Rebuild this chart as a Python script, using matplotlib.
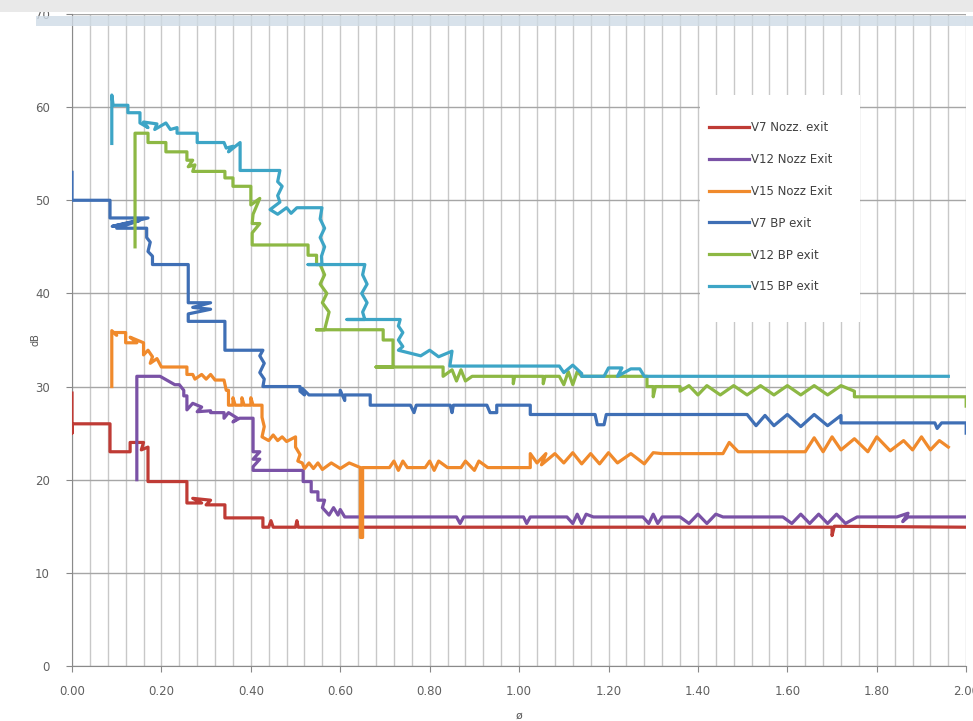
import matplotlib.pyplot as plt
from matplotlib.patches import Rectangle
from matplotlib.ticker import MultipleLocator

v7_nozz_x = [0, 0, 0, 0.085, 0.085, 0.13, 0.13, 0.16, 0.155, 0.17, 0.17, 0.257, 0.257, 0.29, 0.27, 0.31,
             0.30, 0.342, 0.342, 0.427, 0.427, 0.44, 0.445, 0.45, 0.50, 0.503, 0.506, 1.70, 1.70, 1.705, 2.0]
v7_nozz_y = [29.3, 25, 26, 26, 23, 23, 24, 24, 23.2, 23.5, 19.8, 19.8, 17.5, 17.5, 18, 17.8,
             17.3, 17.3, 15.9, 15.9, 14.9, 14.9, 15.6, 14.9, 14.9, 15.6, 14.9, 14.9, 14.0, 15.0, 14.9]

v12_nozz_x = [0.145, 0.145, 0.197, 0.23, 0.24, 0.25, 0.25, 0.257, 0.257, 0.27, 0.29, 0.28, 0.31, 0.31,
              0.34, 0.34, 0.35, 0.37, 0.36, 0.375, 0.405, 0.405, 0.42, 0.405, 0.42, 0.405, 0.405, 0.517,
              0.517, 0.535, 0.535, 0.55, 0.55, 0.565, 0.56, 0.575, 0.585, 0.595, 0.60, 0.61, 0.86, 0.868,
              0.876, 1.01, 1.017, 1.025, 1.107, 1.12, 1.13, 1.14, 1.15, 1.166, 1.277, 1.29, 1.30, 1.31,
              1.32, 1.36, 1.38, 1.40, 1.42, 1.44, 1.456, 1.59, 1.61, 1.63, 1.65, 1.67, 1.69, 1.71, 1.73,
              1.756, 1.845, 1.87, 1.858, 1.87, 2.0]
v12_nozz_y = [20, 31.1, 31.1, 30.2, 30.2, 29.6, 29, 29, 27.5, 28.2, 27.8, 27.3, 27.4, 27.2,
              27.2, 26.6, 27.2, 26.6, 26.2, 26.6, 26.6, 23, 23, 22.2, 22.2, 21.4, 21, 21,
              19.8, 19.8, 18.7, 18.7, 17.8, 17.8, 17, 16.2, 17, 16.2, 16.8, 16, 16, 15.3,
              16, 16, 15.3, 16, 16, 15.3, 16.3, 15.3, 16.3, 16, 16, 15.3, 16.3, 15.3,
              16, 16, 15.3, 16.3, 15.3, 16.3, 16, 16, 15.3, 16.3, 15.3, 16.3, 15.3, 16.3, 15.3,
              16, 16, 16.4, 15.5, 16, 16]

v15_nozz_x = [0.089, 0.089, 0.10, 0.095, 0.12, 0.12, 0.145, 0.13, 0.16, 0.16, 0.17, 0.18, 0.175, 0.19,
              0.20, 0.257, 0.257, 0.27, 0.275, 0.29, 0.30, 0.31, 0.32, 0.34, 0.345, 0.35, 0.35, 0.36,
              0.36, 0.365, 0.38, 0.38, 0.385, 0.40, 0.40, 0.405, 0.425, 0.425, 0.43, 0.425, 0.44, 0.45,
              0.46, 0.47, 0.48, 0.50, 0.50, 0.51, 0.505, 0.515, 0.52, 0.53, 0.54, 0.55, 0.56, 0.58,
              0.60, 0.62, 0.645, 0.645, 0.65, 0.65, 0.71, 0.72, 0.73, 0.74, 0.75, 0.79, 0.80, 0.81,
              0.82, 0.84, 0.87, 0.88, 0.90, 0.91, 0.93, 1.025, 1.025, 1.04, 1.06, 1.05, 1.08, 1.10,
              1.12, 1.14, 1.16, 1.18, 1.20, 1.22, 1.25, 1.28, 1.30, 1.32, 1.456, 1.47, 1.49, 1.50,
              1.64, 1.66, 1.68, 1.70, 1.72, 1.75, 1.78, 1.80, 1.83, 1.86, 1.88, 1.90, 1.92, 1.94,
              1.96]
v15_nozz_y = [30, 36, 35.5, 35.8, 35.8, 34.7, 34.7, 35.3, 34.7, 33.4, 33.9, 33.2, 32.5, 33,
              32.1, 32.1, 31.3, 31.3, 30.8, 31.3, 30.8, 31.3, 30.7, 30.7, 29.6, 29.6, 28, 28,
              28.8, 28, 28, 28.8, 28, 28, 28.8, 28, 28, 26.7, 25.7, 24.6, 24.2, 24.8,
              24.2, 24.6, 24.1, 24.6, 23.5, 22.7, 22, 21.8, 21.2, 21.8, 21.2, 21.8, 21.1, 21.8,
              21.2, 21.8, 21.3, 13.8, 13.8, 21.3, 21.3, 22, 21, 22, 21.3, 21.3, 22, 21,
              22, 21.3, 21.3, 22, 21, 22, 21.3, 21.3, 22.8, 21.8, 22.8, 21.6, 22.8, 21.8,
              22.9, 21.7, 22.8, 21.7, 22.9, 21.8, 22.8, 21.7, 22.9, 22.8, 22.8, 24, 23, 23,
              23, 24.5, 23, 24.6, 23.2, 24.4, 23, 24.6, 23.1, 24.2, 23.2, 24.6, 23.2, 24.2,
              23.5]

v7_bp_x = [0, 0, 0.085, 0.085, 0.17, 0.09, 0.15, 0.10, 0.167, 0.167, 0.175, 0.17, 0.18, 0.18, 0.26,
           0.26, 0.31, 0.27, 0.31, 0.26, 0.26, 0.342, 0.342, 0.427, 0.42, 0.43, 0.42, 0.43, 0.427,
           0.51, 0.51, 0.52, 0.515, 0.53, 0.60, 0.60, 0.61, 0.61, 0.667, 0.667, 0.757, 0.765, 0.77,
           0.846, 0.85, 0.853, 0.928, 0.935, 0.95, 0.95, 1.025, 1.025, 1.17, 1.175, 1.19, 1.195,
           1.51, 1.53, 1.55, 1.57, 1.60, 1.63, 1.66, 1.69, 1.72, 1.72, 1.93, 1.935, 1.945, 2.0, 2.0]
v7_bp_y = [53, 50, 50, 48.1, 48.1, 47.2, 47.8, 47, 47, 46, 45.5, 44.5, 44, 43.1, 43.1,
           39, 39, 38.5, 38.3, 37.8, 37, 37, 33.9, 33.9, 33.3, 32.5, 31.5, 30.8, 30,
           30, 29.5, 29.1, 29.8, 29.1, 29.1, 29.6, 28.5, 29.1, 29.1, 28, 28, 27.2, 28,
           28, 27.2, 28, 28, 27.2, 27.2, 28, 28, 27, 27, 25.9, 25.9, 27,
           27, 25.8, 26.9, 25.8, 27, 25.7, 27, 25.8, 26.9, 26.1, 26.1, 25.5, 26.1, 26.1, 25]

v12_bp_x = [0.141, 0.141, 0.17, 0.17, 0.21, 0.21, 0.257, 0.257, 0.27, 0.26, 0.275, 0.27, 0.342, 0.342,
            0.36, 0.36, 0.40, 0.40, 0.42, 0.405, 0.403, 0.42, 0.403, 0.403, 0.528, 0.528, 0.547,
            0.547, 0.555, 0.565, 0.555, 0.57, 0.56, 0.575, 0.565, 0.547, 0.696, 0.696, 0.718, 0.718,
            0.68, 0.83, 0.83, 0.85, 0.86, 0.87, 0.88, 0.895, 0.987, 0.987, 0.99, 1.054, 1.054, 1.058,
            1.09, 1.10, 1.11, 1.12, 1.13, 1.14, 1.286, 1.286, 1.30, 1.30, 1.305, 1.36, 1.36, 1.38,
            1.40, 1.42, 1.45, 1.48, 1.51, 1.54, 1.57, 1.60, 1.63, 1.66, 1.69, 1.72, 1.75, 1.75, 2.0,
            2.0]
v12_bp_y = [45, 57.2, 57.2, 56.2, 56.2, 55.2, 55.2, 54.3, 54.3, 53.6, 53.8, 53.1, 53.1, 52.4,
            52.4, 51.5, 51.5, 49.5, 50.2, 48.5, 47.5, 47.5, 46.5, 45.2, 45.2, 44.1, 44.1,
            43.1, 43.1, 42, 41, 40, 39, 38, 36.1, 36.1, 36.1, 35, 35, 32.1,
            32.1, 32.1, 31.1, 31.8, 30.6, 31.8, 30.6, 31.1, 31.1, 30.3, 31.1, 31.1, 30.3, 31.1,
            31.1, 30.2, 31.6, 30.2, 31.6, 31.1, 31.1, 30, 30, 28.9, 30, 30, 29.5, 30.1,
            29.1, 30.1, 29.1, 30.1, 29.1, 30.1, 29.1, 30.1, 29.1, 30.1, 29.1, 30.1, 29.5, 28.9, 28.9,
            27.9]

v15_bp_x = [0.089, 0.089, 0.092, 0.125, 0.125, 0.152, 0.152, 0.17, 0.16, 0.19, 0.185, 0.21, 0.22, 0.235,
            0.235, 0.28, 0.28, 0.34, 0.345, 0.36, 0.35, 0.376, 0.376, 0.465, 0.46, 0.47, 0.46, 0.465,
            0.443, 0.46, 0.48, 0.49, 0.503, 0.559, 0.555, 0.565, 0.555, 0.565, 0.558, 0.559, 0.528,
            0.655, 0.65, 0.66, 0.648, 0.66, 0.65, 0.655, 0.615, 0.734, 0.73, 0.74, 0.73, 0.74, 0.73,
            0.78, 0.80, 0.82, 0.85, 0.845, 1.09, 1.10, 1.12, 1.14, 1.14, 1.19, 1.20, 1.23, 1.22,
            1.25, 1.27, 1.28, 1.96]
v15_bp_y = [56.1, 61.3, 60.2, 60.2, 59.4, 59.4, 58.3, 57.8, 58.4, 58.2, 57.6, 58.3, 57.6, 57.8,
            57.2, 57.2, 56.2, 56.2, 55.6, 55.8, 55.2, 56.2, 53.2, 53.2, 52, 51.5, 50.5, 49.8,
            49, 48.5, 49.2, 48.6, 49.2, 49.2, 48, 47, 46, 45, 44, 43.1, 43.1,
            43.1, 42, 41, 40, 39, 38, 37.2, 37.2, 37.2, 36.5, 35.8, 35, 34.3, 33.9,
            33.3, 33.9, 33.2, 33.8, 32.2, 32.2, 31.5, 32.3, 31.4, 31.1, 31.1, 32, 32, 31.1,
            31.9, 31.9, 31.1, 31.1]

series = [
    ('V7 Nozz. exit', v7_nozz_x, v7_nozz_y, '#BF3B35'),
    ('V12 Nozz Exit', v12_nozz_x, v12_nozz_y, '#7A52A6'),
    ('V15 Nozz Exit', v15_nozz_x, v15_nozz_y, '#F08A2C'),
    ('V7 BP exit', v7_bp_x, v7_bp_y, '#3F6FB5'),
    ('V12 BP exit', v12_bp_x, v12_bp_y, '#8DB844'),
    ('V15 BP exit', v15_bp_x, v15_bp_y, '#3DA5C6'),
]

fig = plt.figure(figsize=(9.73, 7.21), dpi=100)
ax = fig.add_axes([0.074, 0.0763, 0.919, 0.9043])

for label, xs, ys, col in series:
    ax.plot(xs, ys, color=col, lw=2.3, label=label, zorder=3)

ax.set_xlim(0, 2.0)
ax.set_ylim(0, 70)
ax.xaxis.set_minor_locator(MultipleLocator(0.04))
ax.yaxis.set_major_locator(MultipleLocator(10))
xticks = [0, 0.2, 0.4, 0.6, 0.8, 1.0, 1.2, 1.4, 1.6, 1.8, 2.0]
ax.set_xticks(xticks)
ax.set_xticklabels(['%.2f' % v for v in xticks])
ax.grid(which='both', axis='x', color='#c8c8c8', lw=1)
ax.grid(which='major', axis='y', color='#a6a6a6', lw=1)
ax.set_axisbelow(True)
ax.tick_params(which='major', length=4, color='#888888', labelsize=8.5, labelcolor='#606060')
ax.tick_params(axis='x', which='major', pad=10)
ax.tick_params(axis='y', which='major', pad=12)
ax.tick_params(which='minor', length=0)
for s in ['top', 'right']:
    ax.spines[s].set_visible(False)
for s in ['left', 'bottom']:
    ax.spines[s].set_color('#8a8a8a')

ax.set_xlabel('ø', fontsize=8, color='#555555')
ax.xaxis.set_label_coords(0.5, -0.068)
ax.set_ylabel('dB', fontsize=7, color='#555555')
ax.yaxis.set_label_coords(-0.035, 0.5)

# legend box
ax.add_patch(Rectangle((0.7025, 0.5276), 0.1785, 0.3482, transform=ax.transAxes,
                       facecolor='white', edgecolor='none', zorder=4))
leg = ax.legend(loc='upper left', bbox_to_anchor=(0.706, 0.845), frameon=False,
                fontsize=8.5, labelspacing=1.6, handlelength=3.4, handletextpad=0.15,
                borderpad=0, labelcolor='#404040')
leg.set_zorder(5)

# screenshot band at the top
fig.patches.append(Rectangle((0, 1 - 12 / 721), 1, 12 / 721, transform=fig.transFigure,
                             facecolor='#e9e9e9', edgecolor='none'))
fig.patches.append(Rectangle((0.037, 1 - 26 / 721), 0.963, 10 / 721, transform=fig.transFigure,
                             facecolor='#cfdbe6', edgecolor='none', alpha=0.8))

fig.savefig('out.png', dpi=100)
